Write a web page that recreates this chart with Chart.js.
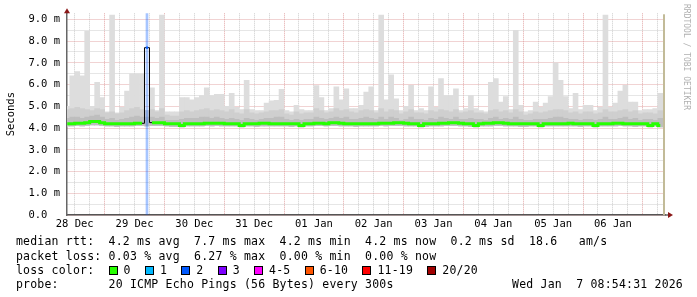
<!DOCTYPE html>
<html>
<head>
<meta charset="utf-8">
<script src="https://cdn.jsdelivr.net/npm/chart.js@4.4.1/dist/chart.umd.min.js"></script>
<style>
  body { margin:0; background:#fff; }
  #wrap { position:relative; width:697px; height:297px; overflow:hidden; background:#fff; }
  #graph { position:absolute; left:0; top:0; }
  .lg { position:absolute; left:16px; font-family:'DejaVu Sans Mono', monospace; font-size:11.5px;
        letter-spacing:0.2px; white-space:pre; line-height:14px; color:#000; }
  .box { display:inline-block; width:7px; height:7px; border:1px solid #000; margin-right:6px; vertical-align:-1px; }
  #wm { position:absolute; left:682px; top:4px; writing-mode:vertical-rl; font-family:'DejaVu Sans Mono', monospace;
        font-size:8px; color:#b0b0b0; white-space:pre; }
</style>
</head>
<body>
<div id="wrap">
  <canvas id="graph" width="697" height="297"></canvas>
  <div id="wm">RRDTOOL / TOBI OETIKER</div>
  <div class="lg" style="top:234px">median rtt:  4.2 ms avg  7.7 ms max  4.2 ms min  4.2 ms now  0.2 ms sd  18.6   am/s</div>
  <div class="lg" style="top:249px">packet loss: 0.03 % avg  6.27 % max  0.00 % min  0.00 % now</div>
  <div class="lg" id="lossRow" style="top:263px"></div>
  <div class="lg" style="top:277px">probe:       20 ICMP Echo Pings (56 Bytes) every 300s</div>
  <div class="lg" style="top:277px;left:auto;right:14px">Wed Jan  7 08:54:31 2026</div>
</div>
<script>
// ---------- DATA (2 hour columns, hours counted from 28 Dec 00:00)
var firstColHour = 9;   // centre of first column
var viewStart = 8.9;    // 28 Dec 08:54
var viewEnd = 248.9;    // 07 Jan 08:54

var dayLabels = ['28 Dec', '29 Dec', '30 Dec', '31 Dec', '01 Jan', '02 Jan', '03 Jan', '04 Jan', '05 Jan', '06 Jan'];
var yTickValues = [0, 0.5, 1, 1.5, 2, 2.5, 3, 3.5, 4, 4.5, 5, 5.5, 6, 6.5, 7, 7.5, 8, 8.5, 9];

// smoke top (max ping), ms
var smokeMax = [
  5.0, 6.4, 6.6, 6.4, 8.45, 5.0, 6.1, 5.4, 4.75, 9.2,
  4.7, 4.95, 5.7, 6.5, 6.5, 6.5, 4.8, 5.85, 4.8, 9.2,
  4.75, 4.75, 4.75, 5.4, 5.4, 5.3, 5.4, 5.5, 5.85, 5.5,
  5.55, 5.55, 5.0, 5.6, 4.95, 4.85, 6.2, 4.85, 4.8, 4.8,
  5.15, 5.25, 5.28, 5.78, 4.8, 4.75, 5.05, 4.85, 4.8, 4.8,
  5.95, 5.4, 4.8, 4.9, 5.9, 5.3, 5.8, 4.9, 4.9, 5.05,
  5.65, 5.9, 4.8, 9.2, 5.3, 6.45, 5.35, 4.8, 5.0, 5.97,
  4.8, 4.9, 4.8, 5.9, 4.95, 6.28, 5.5, 5.5, 5.8, 4.8,
  4.9, 5.5, 4.9, 4.8, 4.75, 6.1, 6.28, 5.2, 5.45, 4.85,
  8.5, 5.05, 4.75, 4.8, 5.2, 4.95, 5.15, 5.45, 7.0, 6.2,
  5.45, 4.9, 5.6, 4.85, 5.05, 5.05, 4.8, 4.95, 9.2, 4.95,
  5.15, 5.7, 5.97, 5.2, 5.2, 4.8, 4.85, 4.85, 4.9, 5.6
];
// upper edge of the middle smoke band
var smokeMid = [
  4.85, 4.9, 4.95, 4.9, 4.85, 4.8, 4.9, 4.85, 4.7, 4.75,
  4.65, 4.7, 4.8, 4.9, 4.95, 4.85, 4.8, 4.85, 4.75, 4.9,
  4.6, 4.55, 4.55, 4.75, 4.8, 4.75, 4.8, 4.85, 4.9, 4.8,
  4.85, 4.8, 4.75, 4.85, 4.7, 4.65, 4.85, 4.7, 4.65, 4.7,
  4.75, 4.8, 4.8, 4.85, 4.65, 4.6, 4.75, 4.65, 4.7, 4.7,
  4.9, 4.8, 4.7, 4.75, 4.9, 4.8, 4.85, 4.75, 4.7, 4.8,
  4.85, 4.8, 4.7, 4.9, 4.75, 4.85, 4.8, 4.65, 4.75, 4.85,
  4.7, 4.7, 4.65, 4.8, 4.75, 4.85, 4.8, 4.75, 4.85, 4.7,
  4.75, 4.8, 4.7, 4.7, 4.65, 4.8, 4.85, 4.75, 4.8, 4.7,
  4.85, 4.75, 4.6, 4.65, 4.75, 4.7, 4.75, 4.8, 4.85, 4.85,
  4.8, 4.7, 4.75, 4.65, 4.75, 4.75, 4.65, 4.7, 4.85, 4.75,
  4.75, 4.8, 4.85, 4.75, 4.8, 4.65, 4.7, 4.7, 4.65, 4.8
];
// upper edge of the dark smoke band (around the median)
var smokeDark = [
  4.45, 4.5, 4.5, 4.45, 4.5, 4.55, 4.6, 4.5, 4.4, 4.45,
  4.35, 4.4, 4.45, 4.5, 4.55, 4.5, 4.5, 4.5, 4.45, 4.5,
  4.35, 4.35, 4.35, 4.4, 4.45, 4.45, 4.45, 4.5, 4.5, 4.45,
  4.5, 4.45, 4.4, 4.45, 4.4, 4.35, 4.45, 4.4, 4.35, 4.4,
  4.45, 4.45, 4.5, 4.5, 4.4, 4.35, 4.4, 4.35, 4.4, 4.4,
  4.5, 4.45, 4.4, 4.45, 4.5, 4.45, 4.5, 4.4, 4.4, 4.45,
  4.5, 4.45, 4.4, 4.5, 4.4, 4.5, 4.45, 4.35, 4.4, 4.5,
  4.4, 4.4, 4.35, 4.45, 4.4, 4.5, 4.45, 4.4, 4.5, 4.4,
  4.4, 4.45, 4.4, 4.4, 4.35, 4.45, 4.5, 4.4, 4.45, 4.4,
  4.5, 4.4, 4.35, 4.35, 4.4, 4.4, 4.4, 4.45, 4.5, 4.5,
  4.45, 4.4, 4.4, 4.35, 4.4, 4.4, 4.35, 4.4, 4.5, 4.4,
  4.4, 4.45, 4.5, 4.4, 4.45, 4.35, 4.4, 4.4, 4.35, 4.45
];
// smoke bottom (min ping)
var smokeMin = [
  4.1, 4.1, 4.12, 4.1, 4.12, 4.15, 4.15, 4.12, 4.1, 4.1,
  4.08, 4.1, 4.1, 4.1, 4.12, 4.12, 4.1, 4.12, 4.12, 4.12,
  4.1, 4.08, 4.08, 4.05, 4.1, 4.1, 4.1, 4.1, 4.12, 4.1,
  4.12, 4.1, 4.1, 4.1, 4.1, 4.05, 4.1, 4.1, 4.08, 4.1,
  4.1, 4.1, 4.1, 4.1, 4.1, 4.08, 4.1, 4.05, 4.1, 4.1,
  4.12, 4.12, 4.1, 4.12, 4.12, 4.1, 4.1, 4.1, 4.08, 4.1,
  4.1, 4.1, 4.1, 4.12, 4.1, 4.12, 4.12, 4.12, 4.1, 4.1,
  4.1, 4.05, 4.08, 4.1, 4.1, 4.1, 4.12, 4.12, 4.12, 4.1,
  4.1, 4.08, 4.05, 4.1, 4.1, 4.1, 4.12, 4.12, 4.1, 4.1,
  4.1, 4.08, 4.08, 4.1, 4.1, 4.05, 4.1, 4.1, 4.1, 4.1,
  4.1, 4.1, 4.1, 4.08, 4.1, 4.1, 4.05, 4.1, 4.1, 4.1,
  4.1, 4.12, 4.1, 4.1, 4.08, 4.1, 4.1, 4.05, 4.1, 4.05
];
// median rtt, ms
var medianRtt = [
  4.2, 4.2, 4.22, 4.22, 4.25, 4.3, 4.3, 4.25, 4.2, 4.2,
  4.2, 4.2, 4.2, 4.2, 4.22, 4.22, 7.7, 4.25, 4.25, 4.25,
  4.2, 4.2, 4.2, 4.12, 4.2, 4.2, 4.2, 4.2, 4.22, 4.22,
  4.22, 4.22, 4.2, 4.2, 4.2, 4.12, 4.2, 4.2, 4.2, 4.22,
  4.22, 4.2, 4.2, 4.2, 4.2, 4.2, 4.2, 4.12, 4.2, 4.2,
  4.22, 4.22, 4.2, 4.25, 4.25, 4.22, 4.2, 4.2, 4.2, 4.2,
  4.2, 4.2, 4.2, 4.22, 4.22, 4.22, 4.25, 4.25, 4.22, 4.2,
  4.2, 4.12, 4.2, 4.2, 4.2, 4.22, 4.22, 4.25, 4.25, 4.22,
  4.2, 4.2, 4.12, 4.2, 4.22, 4.22, 4.25, 4.25, 4.22, 4.2,
  4.2, 4.2, 4.2, 4.2, 4.2, 4.12, 4.2, 4.2, 4.2, 4.2,
  4.2, 4.22, 4.2, 4.2, 4.2, 4.2, 4.12, 4.2, 4.2, 4.2,
  4.22, 4.22, 4.2, 4.2, 4.2, 4.2, 4.2, 4.12, 4.2, 4.12
];
// hours with packet loss and the lost count (of 20)
var lossHours = [41];
var lossCounts = [2];

var lossLabels = ['0', '1', '2', '3', '4-5', '6-10', '11-19', '20/20'];
var lossColors = ['#26ff00', '#00b8ff', '#0059ff', '#7e00ff', '#ff00ff', '#ff5500', '#ff0000', '#a00000'];

// ---------- LEGEND ROW WITH COLOR BOXES
var row = 'loss color:  ';
for (var i = 0; i < lossLabels.length; i++) {
  row += '<span class="box" style="background:' + lossColors[i] + '"></span>' + lossLabels[i] + (i < lossLabels.length - 1 ? '  ' : '');
}
document.getElementById('lossRow').innerHTML = row;

// ---------- BUILD DATASETS
var colHours = smokeMax.map(function (v, i) { return firstColHour + 2 * i; });
function band(lo, hi) {
  return colHours.map(function (h, i) { return {x: h, y: [lo[i], hi[i]]}; });
}
var yMax = 9.28;

function lossColor(n) {
  if (n <= 0) return lossColors[0];
  if (n <= 3) return lossColors[n];
  if (n <= 5) return lossColors[4];
  if (n <= 10) return lossColors[5];
  if (n <= 19) return lossColors[6];
  return lossColors[7];
}
function hexAlpha(hex, a) {
  var r = parseInt(hex.substr(1, 2), 16), g = parseInt(hex.substr(3, 2), 16), b = parseInt(hex.substr(5, 2), 16);
  return 'rgba(' + r + ',' + g + ',' + b + ',' + a + ')';
}

var medianPts = colHours.map(function (h, i) { return {x: h, y: medianRtt[i]}; });
var spikeIdx = medianRtt.indexOf(Math.max.apply(null, medianRtt));

// rrdtool like extras: end marker + axis arrows
var rrdDecor = {
  id: 'rrdDecor',
  afterDraw: function (chart) {
    var ctx = chart.ctx, a = chart.chartArea;
    ctx.save();
    ctx.fillStyle = '#c2bb98';
    ctx.fillRect(a.right - 2, a.top + 1, 2, a.bottom - a.top - 1);
    ctx.strokeStyle = '#666';
    ctx.lineWidth = 1.5;
    ctx.beginPath();
    ctx.moveTo(a.left, a.top); ctx.lineTo(a.left, a.top - 3);
    ctx.moveTo(a.right, a.bottom); ctx.lineTo(a.right + 3, a.bottom);
    ctx.stroke();
    ctx.fillStyle = '#8b1818';
    ctx.beginPath();
    ctx.moveTo(a.left - 3, a.top); ctx.lineTo(a.left + 3, a.top); ctx.lineTo(a.left, a.top - 5);
    ctx.closePath(); ctx.fill();
    ctx.beginPath();
    ctx.moveTo(a.right + 3, a.bottom - 3); ctx.lineTo(a.right + 3, a.bottom + 3); ctx.lineTo(a.right + 8, a.bottom);
    ctx.closePath(); ctx.fill();
    ctx.restore();
  }
};

Chart.defaults.font.family = "'DejaVu Sans Mono', monospace";
Chart.defaults.color = '#000';

var ctx = document.getElementById('graph').getContext('2d');
var smokeChart = new Chart(ctx, {
  type: 'bar',
  data: {
    datasets: [
      {
        label: 'loss',
        data: lossHours.map(function (h) { return {x: h, y: [0, yMax]}; }),
        backgroundColor: lossCounts.map(function (n) { return hexAlpha(lossColor(n), 0.35); }),
        barThickness: 2,
        grouped: false,
        order: 0
      },
      {
        type: 'line',
        label: 'median rtt',
        data: medianPts,
        stepped: 'middle',
        borderColor: lossColors[0],
        borderWidth: 3,
        pointRadius: function (c) { return c.dataIndex === spikeIdx ? 1.5 : 0; },
        pointStyle: 'rect',
        pointBackgroundColor: lossColor(lossCounts[0]),
        pointBorderWidth: 0,
        segment: {
          borderColor: function (c) { return Math.abs(c.p1.parsed.y - c.p0.parsed.y) > 1 ? '#000' : undefined; },
          borderWidth: function (c) { return Math.abs(c.p1.parsed.y - c.p0.parsed.y) > 1 ? 1 : undefined; }
        },
        order: 1
      },
      { label: 'dark', data: band(smokeMin, smokeDark), backgroundColor: '#bebebe', grouped: false, order: 2 },
      { label: 'mid', data: band(smokeMin, smokeMid), backgroundColor: '#cfcfcf', grouped: false, order: 3 },
      { label: 'light', data: band(smokeMin, smokeMax), backgroundColor: '#dddddd', grouped: false, order: 4 }
    ]
  },
  options: {
    responsive: false,
    animation: false,
    devicePixelRatio: 1,
    layout: { padding: { left: 0, top: 13, right: 32, bottom: 62 } },
    plugins: { legend: { display: false }, tooltip: { enabled: false } },
    datasets: { bar: { categoryPercentage: 1, barPercentage: 1, borderWidth: 0 } },
    scales: {
      x: {
        type: 'linear',
        min: viewStart,
        max: viewEnd,
        offset: false,
        z: 1,
        afterFit: function (s) { s.height = 20; },
        afterBuildTicks: function (s) {
          var t = [];
          for (var h = 12; h < viewEnd; h += 6) t.push({value: h});
          s.ticks = t;
        },
        ticks: {
          autoSkip: false, maxRotation: 0, padding: 3,
          font: { size: 10.5 },
          callback: function (v) { return (v % 24 === 12) ? dayLabels[(v - 12) / 24] : ''; }
        },
        grid: {
          offset: false,
          drawTicks: false,
          lineWidth: 1,
          color: function (c) { return (c.tick && c.tick.value % 24 === 0) ? 'rgba(222,150,150,0.85)' : 'rgba(195,195,195,0.85)'; }
        },
        border: { color: '#555', width: 1.5, dash: [1, 1] }
      },
      y: {
        min: 0,
        max: yMax,
        z: 1,
        afterFit: function (s) { s.width = 67; },
        afterBuildTicks: function (s) { s.ticks = yTickValues.map(function (v) { return {value: v}; }); },
        ticks: {
          autoSkip: false, padding: 7,
          font: { size: 10.5 },
          callback: function (v) {
            if (v % 1 !== 0) return '';
            return v === 0 ? '0.0  ' : v.toFixed(1) + ' m';
          }
        },
        grid: {
          drawTicks: false,
          lineWidth: 1,
          color: function (c) { return (c.tick && c.tick.value % 1 === 0) ? 'rgba(222,150,150,0.85)' : 'rgba(195,195,195,0.85)'; }
        },
        border: { color: '#666', width: 1.5, dash: [1, 1] },
        title: { display: true, text: 'Seconds', font: { size: 10.5 }, padding: { top: 5, bottom: 0 } }
      }
    }
  },
  plugins: [rrdDecor]
});
</script>
</body>
</html>
